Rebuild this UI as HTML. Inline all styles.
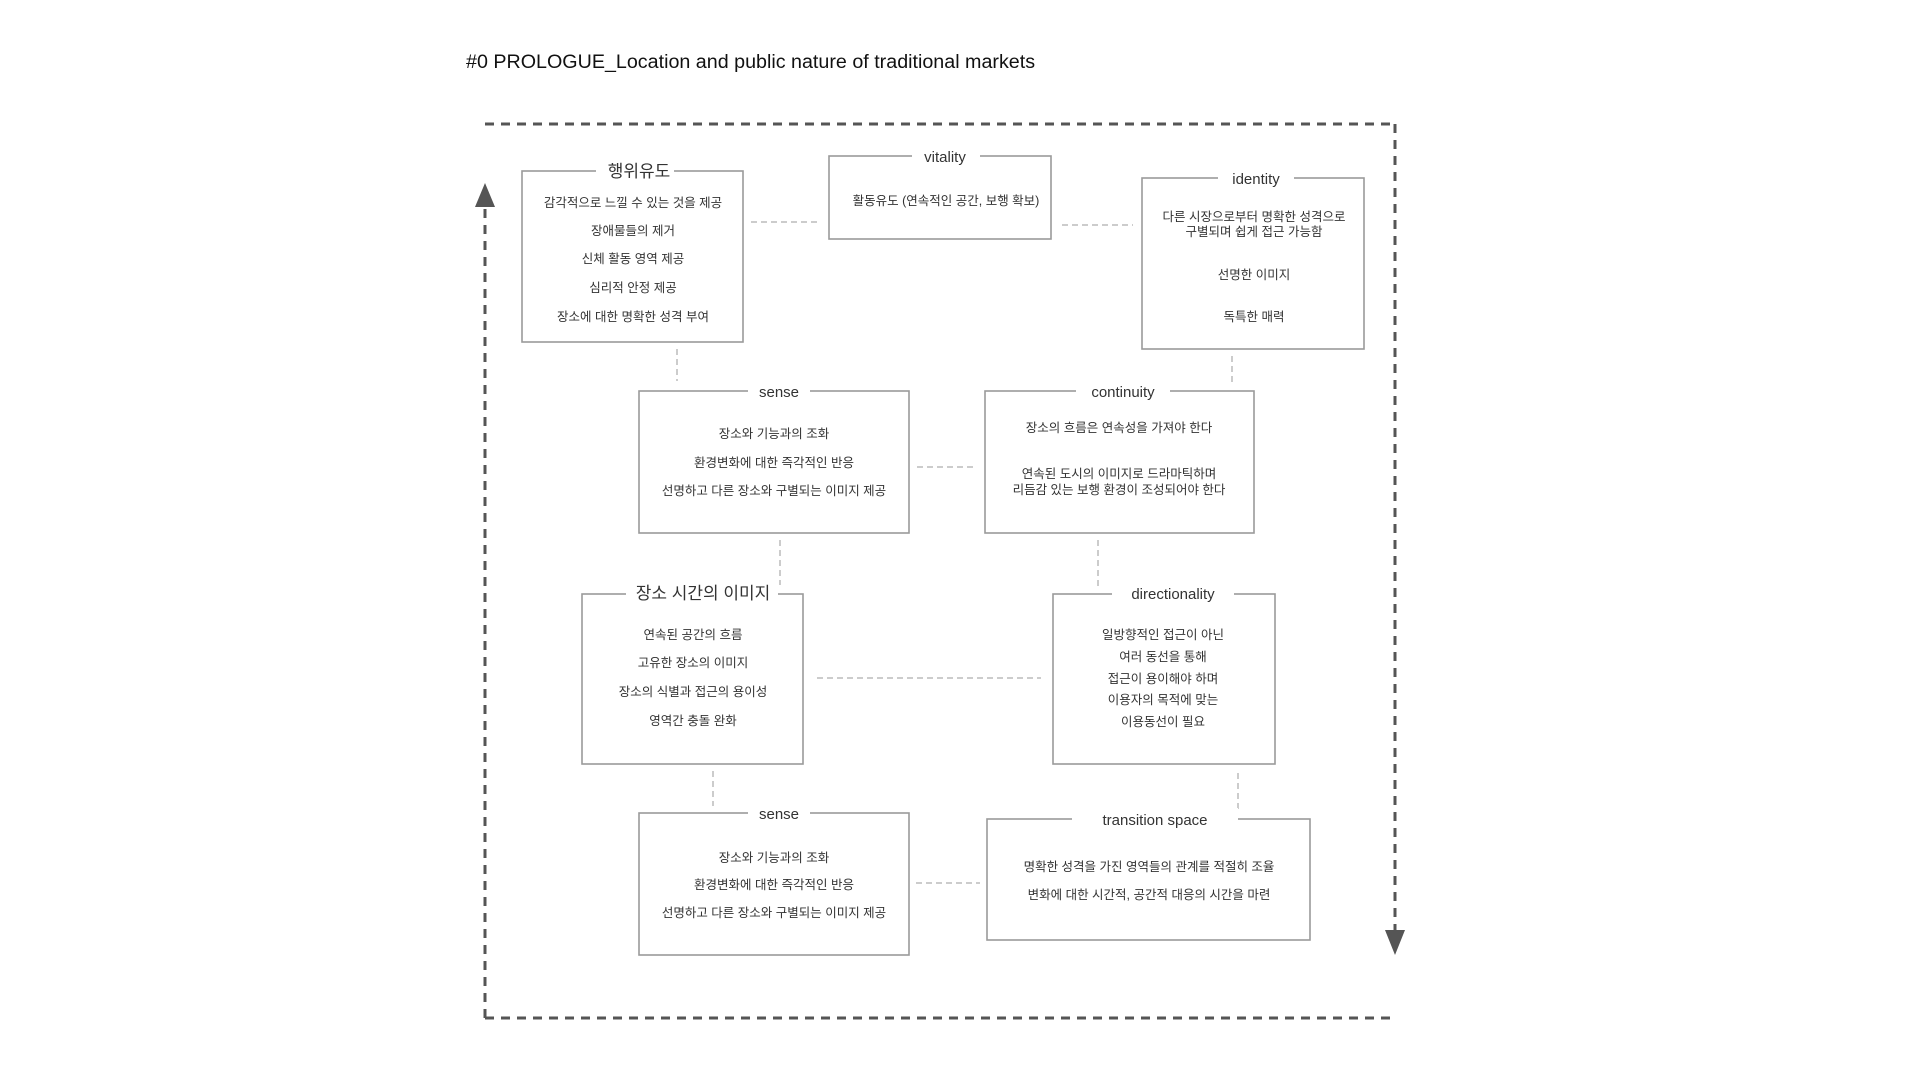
<!DOCTYPE html>
<html><head><meta charset="utf-8"><style>
html,body{margin:0;padding:0;background:#fff;}
svg{display:block;}
text{font-family:"Liberation Sans","Noto Sans CJK KR",sans-serif;fill:#333;}
.b{font-size:12.5px;}
.t{font-size:15px;}
.k{font-size:17px;}
</style></head><body>
<svg width="1920" height="1080" viewBox="0 0 1920 1080" xmlns="http://www.w3.org/2000/svg">
<text x="466" y="68" font-size="19.7" style="fill:#111">#0 PROLOGUE_Location and public nature of traditional markets</text>
<g stroke="#555" stroke-width="3" fill="none" stroke-dasharray="9,7">
<line x1="485" y1="124" x2="1395" y2="124"/>
<line x1="1395" y1="124" x2="1395" y2="935"/>
<line x1="485" y1="1018" x2="1395" y2="1018"/>
<line x1="485" y1="1018" x2="485" y2="205"/>
</g>
<polygon points="485,183 475,207 495,207" fill="#555"/>
<polygon points="1395,955 1385,930 1405,930" fill="#555"/>
<g stroke="#bbb" stroke-width="1.5" stroke-dasharray="6,4" fill="none">
<line x1="751" y1="222" x2="817" y2="222"/>
<line x1="1062" y1="225" x2="1133" y2="225"/>
<line x1="677" y1="349" x2="677" y2="381"/>
<line x1="1232" y1="356" x2="1232" y2="384"/>
<line x1="917" y1="467" x2="977" y2="467"/>
<line x1="780" y1="540" x2="780" y2="585"/>
<line x1="1098" y1="540" x2="1098" y2="587"/>
<line x1="817" y1="678" x2="1041" y2="678"/>
<line x1="713" y1="771" x2="713" y2="806"/>
<line x1="1238" y1="773" x2="1238" y2="811"/>
<line x1="916" y1="883" x2="980" y2="883"/>
</g>
<g stroke="#9a9a9a" stroke-width="1.6" fill="none">
<rect x="522" y="171" width="221" height="171"/>
<rect x="829" y="156" width="222" height="83"/>
<rect x="1142" y="178" width="222" height="171"/>
<rect x="639" y="391" width="270" height="142"/>
<rect x="985" y="391" width="269" height="142"/>
<rect x="582" y="594" width="221" height="170"/>
<rect x="1053" y="594" width="222" height="170"/>
<rect x="639" y="813" width="270" height="142"/>
<rect x="987" y="819" width="323" height="121"/>
</g>
<g fill="#fff">
<rect x="596" y="160" width="78" height="22"/>
<rect x="912" y="145" width="68" height="22"/>
<rect x="1218" y="167" width="76" height="22"/>
<rect x="748" y="380" width="62" height="22"/>
<rect x="1076" y="380" width="94" height="22"/>
<rect x="626" y="582" width="152" height="24"/>
<rect x="1112" y="583" width="122" height="22"/>
<rect x="748" y="802" width="62" height="22"/>
<rect x="1072" y="808" width="166" height="22"/>
</g>
<g text-anchor="middle">
<text class="k" x="639" y="177">행위유도</text>
<text class="t" x="945" y="162">vitality</text>
<text class="t" x="1256" y="184">identity</text>
<text class="t" x="779" y="397">sense</text>
<text class="t" x="1123" y="397">continuity</text>
<text class="k" x="703" y="599">장소 시간의 이미지</text>
<text class="t" x="1173" y="599">directionality</text>
<text class="t" x="779" y="819">sense</text>
<text class="t" x="1155" y="825">transition space</text>

<text class="b" x="633" y="207">감각적으로 느낄 수 있는 것을 제공</text>
<text class="b" x="633" y="235">장애물들의 제거</text>
<text class="b" x="633" y="263">신체 활동 영역 제공</text>
<text class="b" x="633" y="292">심리적 안정 제공</text>
<text class="b" x="633" y="321">장소에 대한 명확한 성격 부여</text>

<text class="b" x="946" y="205">활동유도 (연속적인 공간, 보행 확보)</text>

<text class="b" x="1254" y="221">다른 시장으로부터 명확한 성격으로</text>
<text class="b" x="1254" y="236">구별되며 쉽게 접근 가능함</text>
<text class="b" x="1254" y="279">선명한 이미지</text>
<text class="b" x="1254" y="321">독특한 매력</text>

<text class="b" x="774" y="438">장소와 기능과의 조화</text>
<text class="b" x="774" y="467">환경변화에 대한 즉각적인 반응</text>
<text class="b" x="774" y="495">선명하고 다른 장소와 구별되는 이미지 제공</text>

<text class="b" x="1119" y="432">장소의 흐름은 연속성을 가져야 한다</text>
<text class="b" x="1119" y="478">연속된 도시의 이미지로 드라마틱하며</text>
<text class="b" x="1119" y="494">리듬감 있는 보행 환경이 조성되어야 한다</text>

<text class="b" x="693" y="639">연속된 공간의 흐름</text>
<text class="b" x="693" y="667">고유한 장소의 이미지</text>
<text class="b" x="693" y="696">장소의 식별과 접근의 용이성</text>
<text class="b" x="693" y="725">영역간 충돌 완화</text>

<text class="b" x="1163" y="639">일방향적인 접근이 아닌</text>
<text class="b" x="1163" y="661">여러 동선을 통해</text>
<text class="b" x="1163" y="683">접근이 용이해야 하며</text>
<text class="b" x="1163" y="704">이용자의 목적에 맞는</text>
<text class="b" x="1163" y="726">이용동선이 필요</text>

<text class="b" x="774" y="862">장소와 기능과의 조화</text>
<text class="b" x="774" y="889">환경변화에 대한 즉각적인 반응</text>
<text class="b" x="774" y="917">선명하고 다른 장소와 구별되는 이미지 제공</text>

<text class="b" x="1149" y="871">명확한 성격을 가진 영역들의 관계를 적절히 조율</text>
<text class="b" x="1149" y="899">변화에 대한 시간적,  공간적 대응의 시간을 마련</text>
</g>
</svg>
</body></html>
